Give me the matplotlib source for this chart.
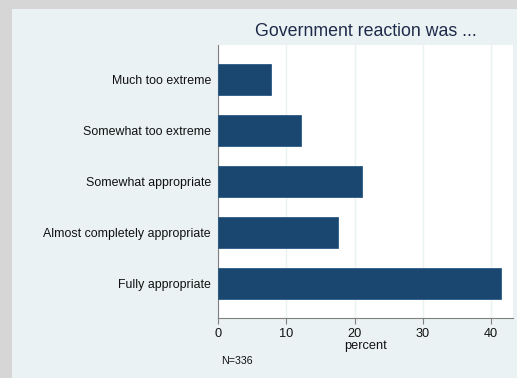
import matplotlib
matplotlib.use('Agg')
from matplotlib import pyplot as plt
from matplotlib.patches import Rectangle

# categories top to bottom, and percent of respondents (N=336)
categories = ['Much too extreme', 'Somewhat too extreme', 'Somewhat appropriate',
              'Almost completely appropriate', 'Fully appropriate']
percent = [7.74, 12.20, 21.13, 17.56, 41.37]
xticks = [0, 10, 20, 30, 40]

plt.rcParams['font.family'] = ['Liberation Sans', 'DejaVu Sans']

W, H = 517, 378
fig = plt.figure(figsize=(W / 100, H / 100), dpi=100)
fig.patch.set_facecolor('#d6d6d6')

# light stata-like background panel
fig.patches.append(Rectangle((12 / W, 0), 1, 1 - 9 / H, transform=fig.transFigure,
                             facecolor='#eaf2f3', edgecolor='none', zorder=-10))

ax = fig.add_axes([218 / W, (H - 318) / H, 295 / W, 273 / H])
ax.set_facecolor('white')

ypos = list(range(len(categories)))
ax.barh(ypos, percent, height=0.61, color='#1a476f', edgecolor='#2b5b86',
        linewidth=0.6, zorder=3)

ax.set_ylim(len(categories) - 1 + 0.68, -0.67)
ax.set_xlim(0, 43.2)
ax.set_yticks(ypos)
ax.set_yticklabels(categories, fontsize=8.9, color='#111111')
ax.tick_params(axis='y', length=0, pad=5)

ax.set_xticks(xticks)
ax.set_xticklabels([str(t) for t in xticks], fontsize=9.2, color='#111111')
ax.tick_params(axis='x', length=4, width=0.8, color='#808080', pad=3)

ax.grid(axis='x', color='#eaf2f3', linewidth=1.0, zorder=1)

for s in ['top', 'right']:
    ax.spines[s].set_visible(False)
for s in ['left', 'bottom']:
    ax.spines[s].set_color('#808080')
    ax.spines[s].set_linewidth(0.8)

ax.set_xlabel('percent', fontsize=9.2, color='#111111', labelpad=0)

fig.text(366 / W, 1 - 32 / H, 'Government reaction was ...', ha='center',
         va='center', fontsize=12.8, color='#1e2a4a')
fig.text(221 / W, 1 - 361 / H, 'N=336', ha='left', va='center',
         fontsize=7.7, color='#111111')

fig.savefig('out.png', dpi=100, facecolor=fig.get_facecolor())
